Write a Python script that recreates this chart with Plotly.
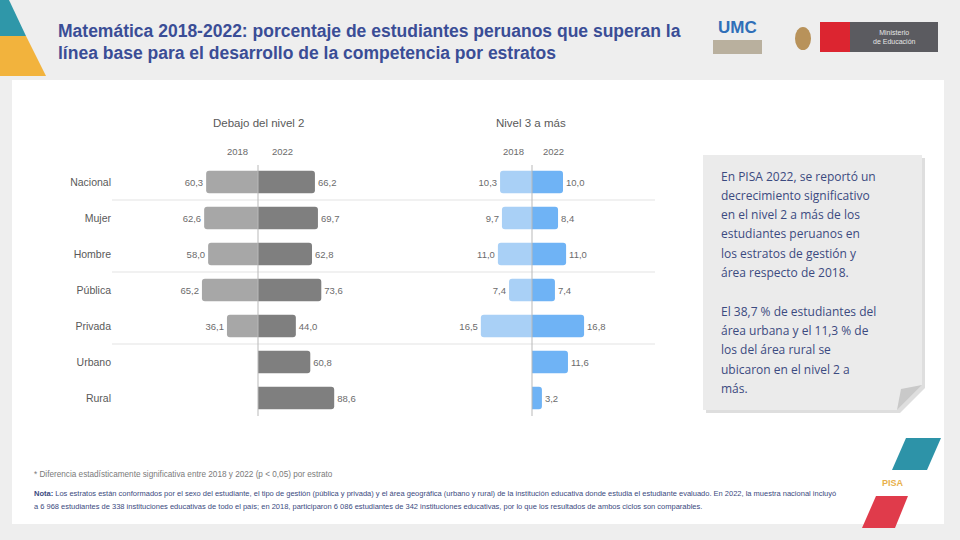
import plotly.graph_objects as go

# ---------------- data ----------------
categories = ["Nacional", "Mujer", "Hombre", "Pública", "Privada", "Urbano", "Rural"]
below2_2018 = [60.3, 62.6, 58.0, 65.2, 36.1, None, None]
below2_2022 = [66.2, 69.7, 62.8, 73.6, 44.0, 60.8, 88.6]
top_2018 = [10.3, 9.7, 11.0, 7.4, 16.5, None, None]
top_2022 = [10.0, 8.4, 11.0, 7.4, 16.8, 11.6, 3.2]
years = ["2018", "2022"]
panel_titles = ["Debajo del nivel 2", "Nivel 3 a más"]

title_lines = [
    "Matemática 2018-2022: porcentaje de estudiantes peruanos que superan la",
    "línea base para el desarrollo de la competencia por estratos",
]
note_lines = [
    "En PISA 2022, se reportó un",
    "decrecimiento significativo",
    "en el nivel 2 a más de los",
    "estudiantes peruanos en",
    "los estratos de gestión y",
    "área respecto de 2018.",
    "",
    "El 38,7 % de estudiantes del",
    "área urbana y el 11,3 % de",
    "los del área rural se",
    "ubicaron en el nivel 2 a",
    "más.",
]
foot_lines = [
    "* Diferencia estadísticamente significativa entre 2018 y 2022 (p < 0,05) por estrato",
    "<b>Nota:</b> Los estratos están conformados por el sexo del estudiante, el tipo de gestión (pública y privada) y el área geográfica (urbano y rural) de la institución educativa donde estudia el estudiante evaluado. En 2022, la muestra nacional incluyó",
    "a 6 968 estudiantes de 338 instituciones educativas de todo el país; en 2018, participaron 6 086 estudiantes de 342 instituciones educativas, por lo que los resultados de ambos ciclos son comparables.",
]

W, H = 960, 540
def px(x): return x / W
def py(y): return 1 - y / H
def path(pts):
    return "M" + " L".join(f"{px(a):.5f},{py(b):.5f}" for a, b in pts) + " Z"

def fmt(v):
    return None if v is None else f"{v:.1f}".replace(".", ",")

def neg(vals):
    return [None if v is None else -v for v in vals]

fig = go.Figure()

c_l18, c_l22 = "#a7a7a7", "#7f7f7f"
c_r18, c_r22 = "#a9d0f6", "#6fb3f5"
tf = dict(size=9.5, color="#6b6b6b", family="Liberation Sans")

for xs, vals, col, xa, ya in [
    (neg(below2_2018), below2_2018, c_l18, "x", "y"),
    (below2_2022, below2_2022, c_l22, "x", "y"),
    (neg(top_2018), top_2018, c_r18, "x2", "y2"),
    (top_2022, top_2022, c_r22, "x2", "y2"),
]:
    fig.add_trace(go.Bar(
        y=categories, x=xs, orientation="h", xaxis=xa, yaxis=ya,
        marker=dict(color=col, line=dict(width=0), cornerradius=3),
        text=[fmt(v) for v in vals], textposition="outside", textfont=tf,
        cliponaxis=False, width=0.62, showlegend=False, hoverinfo="skip",
    ))

# axes geometry
L0, L1, Lc, Ls = 112, 440, 258, 0.86
R0, R1, Rc, Rs = 440, 655, 532, 3.1
Ytop, Ybot = 164, 416

fig.update_layout(
    width=W, height=H, margin=dict(l=0, r=0, t=0, b=0),
    paper_bgcolor="#eeeeee", plot_bgcolor="rgba(0,0,0,0)",
    barmode="overlay", font=dict(family="Liberation Sans"),
    xaxis=dict(domain=[px(L0), px(L1)], range=[-(Lc - L0) / Ls, (L1 - Lc) / Ls],
               visible=False, anchor="y"),
    xaxis2=dict(domain=[px(R0), px(R1)], range=[-(Rc - R0) / Rs, (R1 - Rc) / Rs],
                visible=False, anchor="y2"),
    yaxis=dict(domain=[py(Ybot), py(Ytop)], type="category", categoryarray=categories,
               range=[6.5, -0.5], showgrid=False, zeroline=False, showline=False,
               ticks="", tickfont=dict(size=10.5, color="#595959"), anchor="x"),
    yaxis2=dict(domain=[py(Ybot), py(Ytop)], type="category", categoryarray=categories,
                range=[6.5, -0.5], showgrid=False, zeroline=False, showline=False,
                showticklabels=False, anchor="x2"),
)

shapes = []
# white panel
shapes.append(dict(type="rect", xref="paper", yref="paper", x0=px(12), x1=px(944),
                   y0=py(524), y1=py(80), fillcolor="white", line_width=0, layer="below"))
# corner triangles
shapes.append(dict(type="path", xref="paper", yref="paper",
                   path=path([(0, 0), (9, 0), (26, 36), (0, 36)]),
                   fillcolor="#2f97a9", line_width=0, layer="below"))
shapes.append(dict(type="path", xref="paper", yref="paper",
                   path=path([(0, 36), (26, 36), (46, 76), (0, 76)]),
                   fillcolor="#f2b33d", line_width=0, layer="below"))
# separator lines
for yv in [0.5, 2.5, 4.5]:
    shapes.append(dict(type="line", xref="paper", yref="y", x0=px(112), x1=px(655),
                       y0=yv, y1=yv, line=dict(color="#e3e3e3", width=1), layer="below"))
# center lines
for xr in ["x", "x2"]:
    shapes.append(dict(type="line", xref=xr, yref="paper", x0=0, x1=0,
                       y0=py(416), y1=py(165), line=dict(color="#b9b9b9", width=1), layer="above"))
# note box with shadow and folded corner
shapes.append(dict(type="path", xref="paper", yref="paper",
                   path=path([(706, 158), (925, 158), (925, 388), (900, 413), (706, 413)]),
                   fillcolor="#dedede", line_width=0, layer="below"))
shapes.append(dict(type="path", xref="paper", yref="paper",
                   path=path([(703, 155), (922, 155), (922, 385), (897, 410), (703, 410)]),
                   fillcolor="#ebebeb", line_width=0, layer="below"))
shapes.append(dict(type="path", xref="paper", yref="paper",
                   path=path([(922, 385), (897, 410), (901, 389)]),
                   fillcolor="#c9c9c9", line_width=0, layer="below"))
# logos (top right)
shapes.append(dict(type="rect", xref="paper", yref="paper", x0=px(713), x1=px(762),
                   y0=py(54), y1=py(40), fillcolor="#b9b09e", line_width=0))
shapes.append(dict(type="circle", xref="paper", yref="paper", x0=px(795), x1=px(811),
                   y0=py(50), y1=py(27), fillcolor="#b8925a", line_width=0))
shapes.append(dict(type="rect", xref="paper", yref="paper", x0=px(820), x1=px(850),
                   y0=py(52), y1=py(22), fillcolor="#dc2530", line_width=0))
shapes.append(dict(type="rect", xref="paper", yref="paper", x0=px(850), x1=px(938),
                   y0=py(52), y1=py(22), fillcolor="#5b5b60", line_width=0))
# bottom-right decorations
shapes.append(dict(type="path", xref="paper", yref="paper",
                   path=path([(906, 438), (941, 438), (927, 470), (892, 470)]),
                   fillcolor="#2d93a8", line_width=0))
shapes.append(dict(type="path", xref="paper", yref="paper",
                   path=path([(876, 496), (908, 496), (895, 528), (862, 528)]),
                   fillcolor="#e03b4b", line_width=0))
fig.update_layout(shapes=shapes)

ann = []
def text(x, y, s, size, color, anchor="left", bold=False, family="Liberation Sans", yanchor="middle"):
    ann.append(dict(x=px(x), y=py(y), xref="paper", yref="paper", text=(f"<b>{s}</b>" if bold else s),
                    showarrow=False, xanchor=anchor, yanchor=yanchor,
                    font=dict(size=size, color=color, family=family)))

# title
for i, line in enumerate(title_lines):
    text(56, 31 + 22 * i, line, 17.5, "#3a4d96", bold=True)
# panel headers
text(258, 123, panel_titles[0], 11.5, "#595959", anchor="center")
text(531, 123, panel_titles[1], 11.5, "#595959", anchor="center")
text(237, 152, years[0], 9.5, "#6b6b6b", anchor="center")
text(282, 152, years[1], 9.5, "#6b6b6b", anchor="center")
text(513, 152, years[0], 9.5, "#6b6b6b", anchor="center")
text(553, 152, years[1], 9.5, "#6b6b6b", anchor="center")
# note text
for i, line in enumerate(note_lines):
    if line:
        text(719, 176 + 19.3 * i, line, 12, "#3b4a80", family="Open Sans")
# footnotes
text(32, 474, foot_lines[0], 8.2, "#7a7a7a")
text(32, 493, foot_lines[1], 7.5, "#3b4a80")
text(32, 506, foot_lines[2], 7.5, "#3b4a80")
# logo texts
text(737, 27, "UMC", 17, "#2f6fb8", anchor="center", bold=True)
text(894, 37, "Ministerio<br>de Educación", 7, "#e6e6e6", anchor="center")
text(893, 483, "PISA", 9, "#e8b04a", anchor="center", bold=True)
fig.update_layout(annotations=ann)

fig.write_html("out.html")
